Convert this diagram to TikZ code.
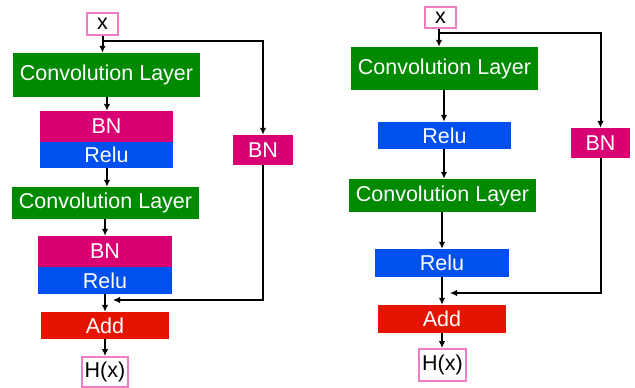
\documentclass[tikz,border=0pt]{standalone}
\usepackage{fontspec}
\setmainfont{Liberation Sans}
\usetikzlibrary{arrows.meta}
\definecolor{convgreen}{HTML}{008A00}
\definecolor{bnmag}{HTML}{D80073}
\definecolor{relublue}{HTML}{0050EF}
\definecolor{addred}{HTML}{E51400}
\definecolor{iopink}{HTML}{F07CC4}
\tikzset{
  blk/.style={rectangle, inner sep=0pt, text=white,
    font=\fontsize{21.5}{26}\selectfont},
  conv/.style={blk, fill=convgreen, minimum width=187pt},
  bnbox/.style={blk, fill=bnmag},
  relubox/.style={blk, fill=relublue},
  addbox/.style={blk, fill=addred},
  iobox/.style={rectangle, inner sep=0pt, draw=iopink, line width=1.8pt,
    fill=white, text=black, font=\fontsize{21.5}{26}\selectfont},
  link/.style={draw=black, line width=2pt,
    -{Latex[length=7pt,width=6.5pt]}}
}
\begin{document}
\begin{tikzpicture}[x=1pt,y=-1pt]
\useasboundingbox (0,0) rectangle (635,388);

% ---------- left block: conv + BN + ReLU ----------
\node[iobox, minimum width=31pt, minimum height=22pt] (xL) at (102.5,24) {x};
\node[conv, minimum height=44pt] (convL1) at (106.5,75) {Convolution Layer};
\node[bnbox, minimum width=133pt, minimum height=31pt] (bnL1) at (106.5,126.5) {BN};
\node[relubox, minimum width=133pt, minimum height=26pt] (reluL1) at (106.5,155) {Relu};
\node[conv, minimum height=32pt] (convL2) at (105.5,203) {Convolution Layer};
\node[bnbox, minimum width=134pt, minimum height=31pt] (bnL2) at (105,251.5) {BN};
\node[relubox, minimum width=134pt, minimum height=27pt] (reluL2) at (105,280.5) {Relu};
\node[addbox, minimum width=128pt, minimum height=27pt] (addL) at (105,325.5) {Add};
\node[iobox, minimum width=46pt, minimum height=30pt] (hL) at (105,372) {H(x)};
\node[bnbox, minimum width=60pt, minimum height=30pt] (bnLs) at (263,150) {BN};

\coordinate (splitL) at (102,41);
\coordinate (mergeL) at (113,300);

\draw[link] (xL.south) -- (xL.south |- convL1.north);
\draw[link] (107,0 |- convL1.south) -- (107,0 |- bnL1.north);
\draw[link] (107,0 |- reluL1.south) -- (107,0 |- convL2.north);
\draw[link] (105,0 |- convL2.south) -- (105,0 |- bnL2.north);
\draw[link] (reluL2.south) -- (addL.north);
\draw[link] (addL.south) -- (hL.north);
\draw[link] (splitL) -| (bnLs.north);
\draw[link] (bnLs.south) |- (mergeL);

% ---------- right block: conv + ReLU ----------
\node[iobox, minimum width=31pt, minimum height=21pt] (xR) at (440.5,17.5) {x};
\node[conv, minimum height=43pt] (convR1) at (444.5,68.5) {Convolution Layer};
\node[relubox, minimum width=133pt, minimum height=27pt] (reluR1) at (444.5,135.5) {Relu};
\node[conv, minimum height=33pt] (convR2) at (442.5,195.5) {Convolution Layer};
\node[relubox, minimum width=134pt, minimum height=28pt] (reluR2) at (442,263) {Relu};
\node[addbox, minimum width=128pt, minimum height=28pt] (addR) at (442,319) {Add};
\node[iobox, minimum width=47pt, minimum height=32pt] (hR) at (442.5,365) {H(x)};
\node[bnbox, minimum width=59pt, minimum height=30pt] (bnRs) at (600.5,143) {BN};

\coordinate (splitR) at (439,33);
\coordinate (mergeR) at (450,293);

\draw[link] (439,0 |- xR.south) -- (439,0 |- convR1.north);
\draw[link] (444,0 |- convR1.south) -- (444,0 |- reluR1.north);
\draw[link] (444,0 |- reluR1.south) -- (444,0 |- convR2.north);
\draw[link] (442,0 |- convR2.south) -- (442,0 |- reluR2.north);
\draw[link] (reluR2.south) -- (addR.north);
\draw[link] (addR.south) -- (442,0 |- hR.north);
\draw[link] (splitR) -| (bnRs.north);
\draw[link] (bnRs.south) |- (mergeR);
\end{tikzpicture}
\end{document}
